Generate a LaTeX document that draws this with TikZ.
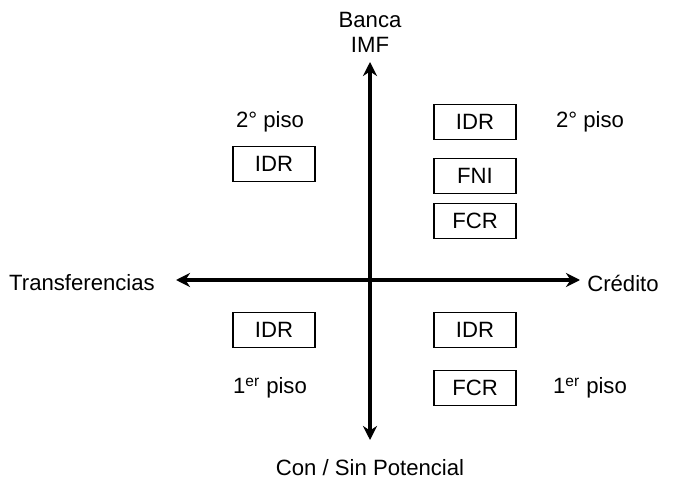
\documentclass[tikz,border=0pt]{standalone}
\usepackage{fontspec}
\setmainfont{Liberation Sans}
\usetikzlibrary{arrows.meta}
\begin{document}
\begin{tikzpicture}[x=0.02cm,y=-0.02cm,font=\fontsize{12.6}{14.2}\selectfont]
        \tikzstyle{caja}=[draw=black,line width=0.7pt,minimum width=1.64cm,minimum height=0.69cm,inner sep=0pt]
        \tikzstyle{eje}=[line width=2.1pt,{Stealth[length=8pt,width=8pt]}-{Stealth[length=8pt,width=8pt]}]
        \tikzstyle{rotulo}=[align=center,inner sep=1pt]
        \useasboundingbox (0,0) rectangle (679,489);
       \begin{scope}
         % ejes
         \coordinate (arriba) at (370,62);
         \coordinate (abajo) at (370,440);
         \coordinate (izq) at (176,280);
         \coordinate (der) at (580,280);
         \draw[eje] (abajo) -- (arriba);
         \draw[eje] (izq) -- (der);
         % rotulos de los ejes
         \node [rotulo] (banca) at (370,32) {Banca\\IMF};
         \node [rotulo] (transf) at (82,283) {Transferencias};
         \node [rotulo] (credito) at (623,283) {Crédito};
         \node [rotulo] (potencial) at (370,468) {Con / Sin Potencial};
         % pisos
         \node [rotulo] (pisoA) at (270,122) {2° piso};
         \node [rotulo] (pisoB) at (590,122) {2° piso};
         \node [rotulo] (pisoC) at (270,388) {1\textsuperscript{er} piso};
         \node [rotulo] (pisoD) at (590,388) {1\textsuperscript{er} piso};
         % cajas
         \node [caja] (idrA) at (274,164) {IDR};
         \node [caja] (idrB) at (475,122) {IDR};
         \node [caja] (fni) at (475,176) {FNI};
         \node [caja] (fcrA) at (475,221) {FCR};
         \node [caja] (idrC) at (274,330) {IDR};
         \node [caja] (idrD) at (475,330) {IDR};
         \node [caja] (fcrB) at (475,388) {FCR};
        \end{scope}
      \end{tikzpicture}
\end{document}
